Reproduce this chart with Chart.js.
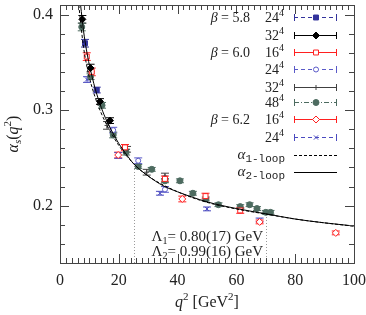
<!DOCTYPE html>
<html>
<head>
<meta charset="utf-8">
<script src="https://cdn.jsdelivr.net/npm/chart.js@4.4.0/dist/chart.umd.min.js"></script>
<style>
  html, body { margin: 0; padding: 0; background: #fff; }
</style>
</head>
<body>
<canvas id="grafica" width="366" height="315"></canvas>
<script>
// ejes
var xTicks = [0, 20, 40, 60, 80, 100];
var yTicks = [0.2, 0.3, 0.4];

// beta = 5.8, 24^4
var q2_58_24 = [8.5, 12.5];
var as_58_24 = [0.370, 0.321];
var er_58_24 = [0.004, 0.003];
// beta = 5.8, 32^4
var q2_58_32 = [7.6, 10.4, 13.6, 17.0];
var as_58_32 = [0.395, 0.344, 0.309, 0.289];
var er_58_32 = [0.004, 0.004, 0.003, 0.003];
// beta = 6.0, 16^4
var q2_60_16 = [9.1, 10.8, 22.1, 35.7, 49.5, 61.3];
var as_60_16 = [0.356, 0.340, 0.261, 0.228, 0.210, 0.195];
var er_60_16 = [0.004, 0.004, 0.003, 0.003, 0.003, 0.003];
// beta = 6.0, 24^4
var q2_60_24 = [18.1, 26.6, 35.7];
var as_60_24 = [0.279, 0.247, 0.217];
var er_60_24 = [0.003, 0.003, 0.003];
// beta = 6.0, 32^4
var q2_60_32 = [16.0, 22.8, 29.5, 35.7];
var as_60_32 = [0.284, 0.259, 0.235, 0.231];
var er_60_32 = [0.004, 0.003, 0.003, 0.003];
// beta = 6.0, 48^4
var q2_60_48 = [7.4, 10.4, 14.3, 18.1, 22.5, 26.6, 31.2, 35.7, 40.8, 45.2, 49.6, 53.9, 61.3, 64.5, 67.0, 70.0, 71.6];
var as_60_48 = [0.387, 0.335, 0.305, 0.274, 0.256, 0.241, 0.238, 0.226, 0.226, 0.213, 0.207, 0.201, 0.199, 0.201, 0.197, 0.193, 0.193];
var er_60_48 = [0.004, 0.003, 0.003, 0.003, 0.003, 0.002, 0.002, 0.002, 0.002, 0.002, 0.002, 0.002, 0.002, 0.002, 0.002, 0.002, 0.002];
// beta = 6.2, 16^4
var q2_62_16 = [19.8, 41.6, 67.9, 93.8];
var as_62_16 = [0.253, 0.207, 0.183, 0.1715];
var er_62_16 = [0.003, 0.003, 0.002, 0.002];
// beta = 6.2, 24^4
var q2_62_24 = [9.2, 19.8, 34.0, 50.0, 67.9];
var as_62_24 = [0.332, 0.2525, 0.213, 0.1966, 0.185];
var er_62_24 = [0.003, 0.003, 0.002, 0.002, 0.002];

// curvas
var q2_1loop = [6.4, 7, 8, 9, 10, 12, 14, 16, 18, 20, 25, 30, 40, 50, 60, 70, 80, 90, 100];
var as_1loop = [0.410, 0.392, 0.366, 0.348, 0.334, 0.313, 0.297, 0.284, 0.273, 0.263, 0.244, 0.231, 0.2145, 0.2035, 0.1965, 0.1912, 0.186, 0.182, 0.1785];
var q2_2loop = [7.0, 8, 9, 10, 11, 12, 14, 16, 18, 20, 22.5, 25, 30, 35, 40, 50, 60, 70, 80, 90, 100];
var as_2loop = [0.410, 0.383, 0.363, 0.347, 0.334, 0.322, 0.303, 0.288, 0.276, 0.265, 0.254, 0.244, 0.231, 0.221, 0.2145, 0.204, 0.197, 0.1915, 0.186, 0.182, 0.1787];

var rangoLambda = [25, 70];
var textoLambda = [["Λ", "1", "= 0.80(17) GeV"], ["Λ", "2", "= 0.99(16) GeV"]];

var serif = '"Liberation Serif", "DejaVu Serif", serif';
var mono = '"Liberation Mono", "DejaVu Sans Mono", monospace';

var series = [
  { q: q2_58_24, a: as_58_24, e: er_58_24, color: "#33339c", style: "rect", r: 3.5, fill: true, dash: [4, 3], beta: "5.8", lat: "24" },
  { q: q2_58_32, a: as_58_32, e: er_58_32, color: "#000000", style: "rectRot", r: 3.5, fill: true, dash: [], beta: "", lat: "32" },
  { q: q2_60_16, a: as_60_16, e: er_60_16, color: "#ff2020", style: "rect", r: 3.5, fill: false, dash: [], beta: "6.0", lat: "16" },
  { q: q2_60_24, a: as_60_24, e: er_60_24, color: "#5a5ac8", style: "circle", r: 2.5, fill: false, dash: [4, 3], beta: "", lat: "24" },
  { q: q2_60_32, a: as_60_32, e: er_60_32, color: "#404040", style: "cross", r: 2.5, fill: false, dash: [], beta: "", lat: "32" },
  { q: q2_60_48, a: as_60_48, e: er_60_48, color: "#4d6b60", style: "circle", r: 3, fill: true, dash: [5, 2, 1, 2], beta: "", lat: "48" },
  { q: q2_62_16, a: as_62_16, e: er_62_16, color: "#ff2020", style: "rectRot", r: 3.5, fill: false, dash: [], beta: "6.2", lat: "16" },
  { q: q2_62_24, a: as_62_24, e: er_62_24, color: "#4a4ac0", style: "crossRot", r: 3, fill: false, dash: [4, 3], beta: "", lat: "24" }
];

function puntos(xs, ys) {
  return xs.map(function (x, i) { return { x: x, y: ys[i] }; });
}

var datasets = [
  { data: puntos(q2_1loop, as_1loop), showLine: true, borderColor: "#000", borderWidth: 1, borderDash: [3, 2],
    pointRadius: 0, cubicInterpolationMode: "monotone" },
  { data: puntos(q2_2loop, as_2loop), showLine: true, borderColor: "#000", borderWidth: 1,
    pointRadius: 0, cubicInterpolationMode: "monotone" }
];
series.forEach(function (s) {
  datasets.push({
    data: puntos(s.q, s.a),
    showLine: false,
    pointStyle: s.style,
    pointRadius: s.r,
    pointBorderWidth: 1,
    pointBorderColor: s.color,
    pointBackgroundColor: s.fill ? s.color : "#fff",
    errores: s.e,
    color: s.color
  });
});

function texto(ctx, partes, x, y, align) {
  var w = 0;
  partes.forEach(function (p) { ctx.font = p[1]; w += ctx.measureText(p[0]).width; });
  var cx = align === "right" ? x - w : (align === "center" ? x - w / 2 : x);
  partes.forEach(function (p) {
    ctx.font = p[1];
    ctx.fillText(p[0], cx, y + (p[2] || 0));
    cx += ctx.measureText(p[0]).width;
  });
}

function interp(xs, ys, x) {
  for (var i = 1; i < xs.length; i++) {
    if (x <= xs[i]) {
      var t = (x - xs[i - 1]) / (xs[i] - xs[i - 1]);
      return ys[i - 1] + t * (ys[i] - ys[i - 1]);
    }
  }
  return ys[ys.length - 1];
}

// sin relleno automatico de Chart.js
function sinPadding(s) {
  s.paddingTop = 0; s.paddingBottom = 0; s.paddingLeft = 0; s.paddingRight = 0;
}

// barras de error antes de los puntos
var barrasError = {
  id: "barrasError",
  beforeDatasetsDraw: function (chart) {
    var ctx = chart.ctx, xs = chart.scales.x, ys = chart.scales.y, area = chart.chartArea;
    ctx.save();
    ctx.beginPath();
    ctx.rect(area.left, area.top, area.right - area.left, area.bottom - area.top);
    ctx.clip();
    ctx.lineWidth = 1;
    // lineas punteadas de Lambda
    ctx.strokeStyle = "#9a9a9a";
    ctx.setLineDash([1, 2]);
    rangoLambda.forEach(function (q) {
      var px = Math.round(xs.getPixelForValue(q)) + 0.5;
      ctx.beginPath();
      ctx.moveTo(px, area.bottom);
      ctx.lineTo(px, ys.getPixelForValue(interp(q2_2loop, as_2loop, q)));
      ctx.stroke();
    });
    ctx.setLineDash([]);
    chart.data.datasets.forEach(function (ds) {
      if (!ds.errores) return;
      ctx.strokeStyle = ds.color;
      ds.data.forEach(function (p, i) {
        var px = xs.getPixelForValue(p.x);
        var y1 = ys.getPixelForValue(p.y - ds.errores[i]);
        var y2 = ys.getPixelForValue(p.y + ds.errores[i]);
        ctx.beginPath();
        ctx.moveTo(px, y1); ctx.lineTo(px, y2);
        ctx.moveTo(px - 4, y1); ctx.lineTo(px + 4, y1);
        ctx.moveTo(px - 4, y2); ctx.lineTo(px + 4, y2);
        ctx.stroke();
      });
    });
    ctx.restore();
  },
  afterDraw: function (chart) {
    var ctx = chart.ctx, xs = chart.scales.x, ys = chart.scales.y, area = chart.chartArea;
    ctx.save();
    ctx.strokeStyle = "#444";
    ctx.lineWidth = 1;
    // marcas de los ejes hacia dentro
    ctx.beginPath();
    for (var i = 0; i <= 50; i++) {
      var px = Math.round(xs.getPixelForValue(i * 2)) + 0.5;
      var l = (i % 10 === 0) ? 9 : 5;
      ctx.moveTo(px, area.bottom); ctx.lineTo(px, area.bottom - l);
      ctx.moveTo(px, area.top); ctx.lineTo(px, area.top + l);
    }
    for (var j = 7; j <= 20; j++) {
      var py = Math.round(ys.getPixelForValue(j * 0.02)) + 0.5;
      var ly = (j % 5 === 0) ? 9 : 5;
      ctx.moveTo(area.left, py); ctx.lineTo(area.left + ly, py);
      ctx.moveTo(area.right, py); ctx.lineTo(area.right - ly, py);
    }
    ctx.stroke();
    ctx.strokeRect(Math.round(area.left) + 0.5, Math.round(area.top) + 0.5,
      Math.round(area.right - area.left), Math.round(area.bottom - area.top));

    // leyenda
    ctx.fillStyle = "#222";
    ctx.textBaseline = "alphabetic";
    var filas = [17, 35, 52, 69, 87, 102, 119, 137];
    series.forEach(function (s, k) {
      var y = filas[k];
      if (s.beta) {
        texto(ctx, [["β", "italic 14px " + serif], [" = " + s.beta, "14px " + serif]], 250, y + 5, "right");
      }
      texto(ctx, [[s.lat, "14px " + serif], ["4", "10px " + serif, -6]], 284, y + 5, "right");
      ctx.strokeStyle = s.color;
      ctx.setLineDash(s.dash);
      ctx.beginPath();
      ctx.moveTo(294, y + 0.5); ctx.lineTo(337, y + 0.5);
      ctx.stroke();
      ctx.setLineDash([]);
      ctx.beginPath();
      ctx.moveTo(294.5, y - 3); ctx.lineTo(294.5, y + 4);
      ctx.moveTo(336.5, y - 3); ctx.lineTo(336.5, y + 4);
      ctx.stroke();
      ctx.fillStyle = s.fill ? s.color : "#fff";
      Chart.helpers.drawPoint(ctx, { pointStyle: s.style, radius: s.r, rotation: 0, borderWidth: 1 }, 316, y + 0.5);
      ctx.fillStyle = "#222";
    });
    var curvas = [["1-loop", [3, 2], 155], ["2-loop", [], 172]];
    curvas.forEach(function (c) {
      texto(ctx, [["α", "italic 15px " + serif], [c[0], "11px " + mono, 3]], 285, c[2] + 4, "right");
      ctx.strokeStyle = "#000";
      ctx.setLineDash(c[1]);
      ctx.beginPath();
      ctx.moveTo(294, c[2] + 0.5); ctx.lineTo(337, c[2] + 0.5);
      ctx.stroke();
    });
    ctx.setLineDash([]);

    // texto de Lambda
    texto(ctx, [[textoLambda[0][0], "15px " + serif], [textoLambda[0][1], "10px " + serif, 3], [textoLambda[0][2], "15px " + serif]], 263, 241, "right");
    texto(ctx, [[textoLambda[1][0], "15px " + serif], [textoLambda[1][1], "10px " + serif, 3], [textoLambda[1][2], "15px " + serif]], 263, 256, "right");

    // titulos de los ejes
    texto(ctx, [["q", "italic 16px " + serif], ["2", "11px " + serif, -7], [" [GeV", "16px " + serif], ["2", "11px " + serif, -7], ["]", "16px " + serif]],
      (area.left + area.right) / 2, 307, "center");
    ctx.translate(18, (area.top + area.bottom) / 2);
    ctx.rotate(-Math.PI / 2);
    texto(ctx, [["α", "italic 16px " + serif], ["s", "italic 11px " + serif, 3], ["(", "16px " + serif], ["q", "italic 16px " + serif],
      ["2", "11px " + serif, -7], [")", "16px " + serif]], 0, 0, "center");
    ctx.restore();
  }
};

var contenedor = document.getElementById("grafica").getContext("2d");
var grafica = new Chart(contenedor, {
  type: "scatter",
  data: { datasets: datasets },
  options: {
    responsive: false,
    animation: false,
    events: [],
    layout: { padding: { top: 2, right: 12, left: 0, bottom: 0 } },
    plugins: { legend: { display: false }, tooltip: { enabled: false } },
    scales: {
      x: {
        type: "linear", min: 0, max: 100,
        afterBuildTicks: function (s) { s.ticks = xTicks.map(function (v) { return { value: v }; }); },
        afterFit: function (s) { s.height = 52; sinPadding(s); },
        grid: { display: false, drawTicks: false },
        border: { display: false },
        ticks: { color: "#222", padding: 8, maxRotation: 0, font: { family: serif, size: 16 },
          callback: function (v) { return String(v); } }
      },
      y: {
        type: "linear", min: 0.14, max: 0.41,
        afterBuildTicks: function (s) { s.ticks = yTicks.map(function (v) { return { value: v }; }); },
        afterFit: function (s) { s.width = 60; sinPadding(s); },
        grid: { display: false, drawTicks: false },
        border: { display: false },
        ticks: { color: "#222", padding: 7, font: { family: serif, size: 16 },
          callback: function (v) { return v.toFixed(1); } }
      }
    }
  },
  plugins: [barrasError]
});
</script>
</body>
</html>
